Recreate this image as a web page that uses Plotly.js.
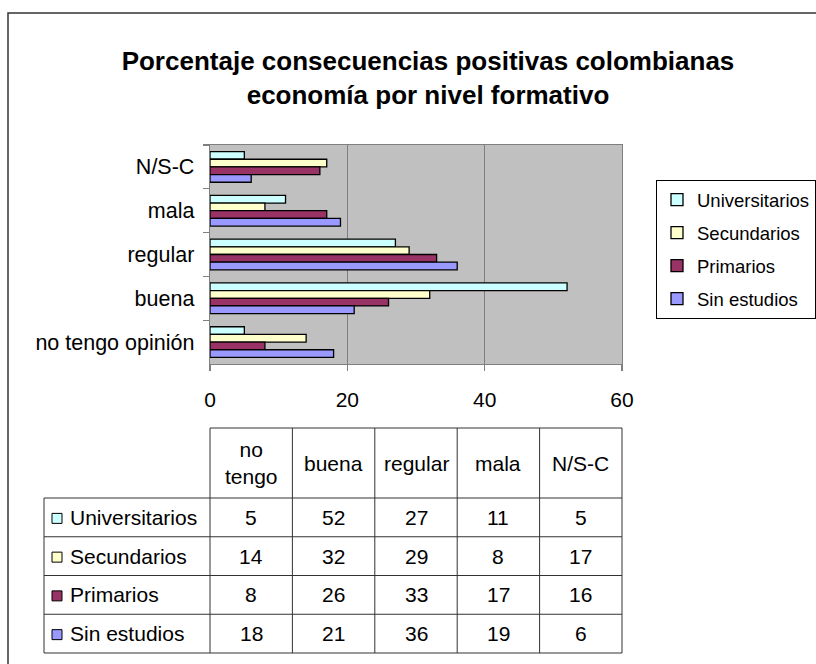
<!DOCTYPE html>
<html>
<head>
<meta charset="utf-8">
<script src="https://cdn.plot.ly/plotly-3.0.1.min.js"></script>
<style>html,body{margin:0;padding:0;background:#fff;}#chart{width:816px;height:664px;}</style>
</head>
<body>
<div id="chart"></div>
<script>
// ---- data ----
const categories = ['no tengo opinión', 'buena', 'regular', 'mala', 'N/S-C'];
const tableHeaders = ['no<br>tengo', 'buena', 'regular', 'mala', 'N/S-C'];
const seriesNames = ['Universitarios', 'Secundarios', 'Primarios', 'Sin estudios'];
const universitarios = [5, 52, 27, 11, 5];
const secundarios = [14, 32, 29, 8, 17];
const primarios = [8, 26, 33, 17, 16];
const sinEstudios = [18, 21, 36, 19, 6];
const xTicks = [0, 20, 40, 60];
const titleText = 'Porcentaje consecuencias positivas colombianas<br>economía por nivel formativo';

// ---- style ----
const seriesValues = [universitarios, secundarios, primarios, sinEstudios];
const seriesColors = ['#CCFFFF', '#FFFFCC', '#993366', '#9999FF'];
const FONT = 'Arial, "Liberation Sans", sans-serif';

const W = 816, H = 664;
const plotL = 210, plotR = 622, plotT = 145, plotB = 364;
const px = v => (v - plotL) / (plotR - plotL);
const py = v => (plotB - v) / (plotB - plotT);

// traces in series order; y axis is reversed so the first series sits at the top of each group
const traces = seriesNames.map((name, k) => ({
  type: 'bar',
  orientation: 'h',
  name: name,
  y: categories,
  x: seriesValues[k],
  legendgroup: 'g' + k,
  marker: {color: seriesColors[k], line: {color: '#000000', width: 1.3}},
  hoverinfo: 'x+name'
}));

// ---- table ----
const shapes = [];
const annotations = [];
const tblLeft = 44, hdrTop = 428, hdrBot = 498, rowH = 38.75;
const nRows = seriesNames.length;
const tblBot = hdrBot + rowH * nRows;
const lineStyle = {color: '#333333', width: 1};
const TF = 21;

shapes.push({type: 'line', xref: 'paper', yref: 'paper', x0: 0, x1: 1, y0: py(hdrTop), y1: py(hdrTop), line: lineStyle});
for (let r = 0; r <= nRows; r++) {
  const yy = hdrBot + r * rowH;
  shapes.push({type: 'line', xref: 'paper', yref: 'paper', x0: px(tblLeft), x1: 1, y0: py(yy), y1: py(yy), line: lineStyle});
}
shapes.push({type: 'line', xref: 'paper', yref: 'paper', x0: px(tblLeft), x1: px(tblLeft), y0: py(hdrBot), y1: py(tblBot), line: lineStyle});
for (let c = 0; c <= categories.length; c++) {
  const xx = c / categories.length;
  shapes.push({type: 'line', xref: 'paper', yref: 'paper', x0: xx, x1: xx, y0: py(hdrTop), y1: py(tblBot), line: lineStyle});
}
tableHeaders.forEach((h, c) => {
  annotations.push({xref: 'paper', yref: 'paper', x: (c + 0.5) / categories.length, y: py((hdrTop + hdrBot) / 2),
    text: h, showarrow: false, xanchor: 'center', yanchor: 'middle', font: {size: TF, color: '#000'}});
});
seriesNames.forEach((name, r) => {
  const yc = hdrBot + (r + 0.5) * rowH;
  shapes.push({type: 'rect', xref: 'paper', yref: 'paper', x0: px(52), x1: px(62), y0: py(yc + 6), y1: py(yc - 4),
    fillcolor: seriesColors[r], line: {color: '#000', width: 1}});
  annotations.push({xref: 'paper', yref: 'paper', x: px(68), y: py(yc), text: name, showarrow: false,
    xanchor: 'left', yanchor: 'middle', font: {size: TF, color: '#000'}});
  seriesValues[r].forEach((v, c) => {
    annotations.push({xref: 'paper', yref: 'paper', x: (c + 0.5) / categories.length, y: py(yc), text: String(v),
      showarrow: false, xanchor: 'center', yanchor: 'middle', font: {size: TF, color: '#000'}});
  });
});
// outer chart frame (runs past the right and bottom edges)
shapes.push({type: 'rect', xref: 'paper', yref: 'paper', x0: px(8), x1: px(840), y0: py(13), y1: py(700),
  line: {color: '#333333', width: 1.5}, fillcolor: 'rgba(0,0,0,0)'});

const layout = {
  width: W, height: H,
  margin: {l: plotL, r: W - plotR, t: plotT, b: H - plotB, pad: 0, autoexpand: false},
  paper_bgcolor: '#ffffff',
  plot_bgcolor: '#C0C0C0',
  font: {family: FONT, size: 21, color: '#000000'},
  title: {text: '<b>' + titleText + '</b>', font: {family: FONT, size: 26, color: '#000'},
    xref: 'container', yref: 'container', x: 428 / W, xanchor: 'center', y: 1 - 70 / H, yanchor: 'middle'},
  barmode: 'group', bargap: 0.3, bargroupgap: 0,
  xaxis: {range: [0, 60], tickvals: xTicks, ticktext: xTicks.map(String), showgrid: true, gridcolor: '#7F7F7F', gridwidth: 1.3,
    zeroline: false, showline: true, linecolor: '#7F7F7F', linewidth: 1.3, mirror: true,
    ticks: 'outside', ticklen: 6, tickcolor: '#7F7F7F', tickwidth: 1.3, tickfont: {size: 21}, ticklabelstandoff: 10, fixedrange: true},
  yaxis: {type: 'category', categoryorder: 'array', categoryarray: categories.slice().reverse(), autorange: 'reversed',
    showgrid: false, zeroline: false, showline: true, linecolor: '#7F7F7F', linewidth: 1.3, mirror: true,
    ticks: 'outside', tickson: 'boundaries', ticklen: 6, tickcolor: '#7F7F7F', tickwidth: 1.3, tickfont: {size: 21.5}, ticklabelstandoff: 10, fixedrange: true},
  showlegend: true,
  legend: {x: px(656), y: py(180), xref: 'paper', yref: 'paper', xanchor: 'left', yanchor: 'top',
    traceorder: 'grouped', tracegroupgap: 6, bgcolor: '#ffffff', bordercolor: '#000000', borderwidth: 1,
    font: {size: 18.5, color: '#000'}},
  shapes: shapes,
  annotations: annotations
};

Plotly.newPlot('chart', traces, layout, {displayModeBar: false, staticPlot: true});
</script>
</body>
</html>
